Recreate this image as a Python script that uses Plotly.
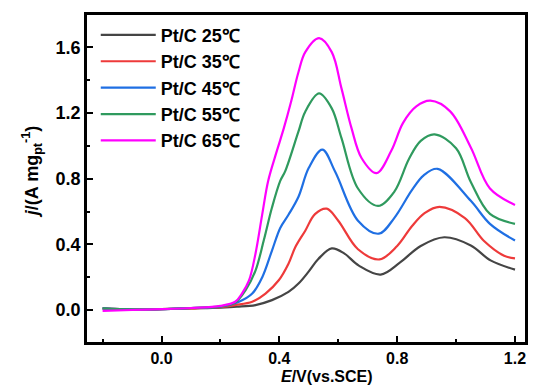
import plotly.graph_objects as go

labels = ["Pt/C 25℃", "Pt/C 35℃", "Pt/C 45℃", "Pt/C 55℃", "Pt/C 65℃"]
colors = ["#454545", "#ee3a3a", "#1f6fe3", "#2f9a5e", "#ff00ff"]

x25 = [-0.2, -0.1, 0.0, 0.1, 0.2, 0.256, 0.319, 0.375, 0.431, 0.465, 0.5, 0.533, 0.578, 0.62, 0.67, 0.744, 0.81, 0.88, 0.96, 1.05, 1.117, 1.2]
y25 = [0.01, 0.003, 0.005, 0.01, 0.015, 0.02, 0.03, 0.06, 0.11, 0.161, 0.235, 0.312, 0.375, 0.345, 0.27, 0.216, 0.29, 0.39, 0.443, 0.393, 0.302, 0.246]

x35 = [-0.2, -0.1, 0.0, 0.1, 0.2, 0.25, 0.308, 0.353, 0.398, 0.431, 0.454, 0.488, 0.521, 0.561, 0.6, 0.667, 0.74, 0.8, 0.85, 0.893, 0.944, 1.03, 1.095, 1.163, 1.2]
y35 = [0.01, 0.003, 0.005, 0.01, 0.018, 0.03, 0.05, 0.10, 0.181, 0.282, 0.382, 0.483, 0.584, 0.617, 0.544, 0.37, 0.308, 0.39, 0.51, 0.59, 0.628, 0.56, 0.42, 0.33, 0.314]

x45 = [-0.2, -0.1, 0.0, 0.1, 0.2, 0.263, 0.308, 0.342, 0.375, 0.403, 0.431, 0.465, 0.5, 0.546, 0.59, 0.667, 0.738, 0.79, 0.85, 0.89, 0.937, 1.05, 1.115, 1.2]
y45 = [0.01, 0.003, 0.005, 0.012, 0.02, 0.05, 0.10, 0.20, 0.362, 0.50, 0.58, 0.69, 0.866, 0.977, 0.84, 0.544, 0.465, 0.56, 0.73, 0.82, 0.86, 0.665, 0.525, 0.423]

x55 = [-0.2, -0.1, 0.0, 0.1, 0.2, 0.25, 0.285, 0.319, 0.347, 0.375, 0.403, 0.42, 0.465, 0.488, 0.535, 0.578, 0.611, 0.667, 0.735, 0.79, 0.84, 0.88, 0.927, 1.0, 1.05, 1.115, 1.2]
y55 = [0.01, 0.003, 0.005, 0.012, 0.022, 0.045, 0.12, 0.24, 0.423, 0.624, 0.786, 0.846, 1.088, 1.208, 1.319, 1.228, 1.047, 0.74, 0.634, 0.72, 0.92, 1.03, 1.07, 0.985, 0.78, 0.585, 0.525]

x65 = [-0.2, -0.1, 0.0, 0.1, 0.2, 0.25, 0.273, 0.297, 0.319, 0.342, 0.362, 0.39, 0.415, 0.44, 0.465, 0.488, 0.535, 0.578, 0.611, 0.645, 0.679, 0.73, 0.78, 0.82, 0.865, 0.913, 0.98, 1.05, 1.115, 1.2]
y65 = [-0.005, 0.0, 0.005, 0.012, 0.025, 0.05, 0.10, 0.18, 0.343, 0.584, 0.786, 0.96, 1.106, 1.27, 1.45, 1.571, 1.656, 1.571, 1.35, 1.108, 0.926, 0.834, 0.97, 1.14, 1.24, 1.275, 1.21, 0.99, 0.74, 0.64]

series_x = [x25, x35, x45, x55, x65]
series_y = [y25, y35, y45, y55, y65]

FONT = "Liberation Sans, Arial, sans-serif"

fig = go.Figure()
for lab, col, xs, ys in zip(labels, colors, series_x, series_y):
    fig.add_trace(go.Scatter(x=xs, y=ys, mode="lines", name=lab,
                             line=dict(color=col, width=2.2, shape="spline", smoothing=1.0)))

axis_common = dict(
    showline=True, linecolor="black", linewidth=2.5, mirror=True,
    ticks="inside", ticklen=6, tickwidth=2, tickcolor="black",
    showgrid=False, zeroline=False,
    minor=dict(ticks="inside", ticklen=3, tickwidth=2, tickcolor="black", dtick=0.2, showgrid=False),
)

fig.update_xaxes(range=[-0.253, 1.234], tick0=0, dtick=0.4, tickformat=".1f",
                 tickfont=dict(family=FONT, size=16, color="black", weight="bold"), **axis_common)
fig.update_yaxes(range=[-0.195, 1.797], tick0=0, dtick=0.4, tickformat=".1f",
                 tickfont=dict(family=FONT, size=18, color="black", weight="bold"), **axis_common)

fig.update_layout(
    width=533, height=386,
    margin=dict(l=87, r=5, t=15, b=44),
    plot_bgcolor="white", paper_bgcolor="white",
    font=dict(family=FONT, size=16, color="black", weight="bold"),
    showlegend=True,
    legend=dict(x=0.02, y=0.995, xanchor="left", yanchor="top",
                bgcolor="rgba(0,0,0,0)", borderwidth=0,
                font=dict(family=FONT, size=18, color="black", weight="bold"),
                itemwidth=55, tracegroupgap=0),
    annotations=[
        dict(text="<i>E</i>/V(vs.SCE)", xref="paper", yref="paper", x=0.549, y=-0.106,
             xanchor="center", yanchor="middle", showarrow=False,
             font=dict(family=FONT, size=16, color="black", weight="bold")),
        dict(text="<i>j</i>/(A mg<sub>pt</sub><sup>-1</sup>)", xref="paper", yref="paper",
             x=-0.125, y=0.52, xanchor="center", yanchor="middle", textangle=-90, showarrow=False,
             font=dict(family=FONT, size=18, color="black", weight="bold")),
    ],
)

fig.write_html("out.html")
